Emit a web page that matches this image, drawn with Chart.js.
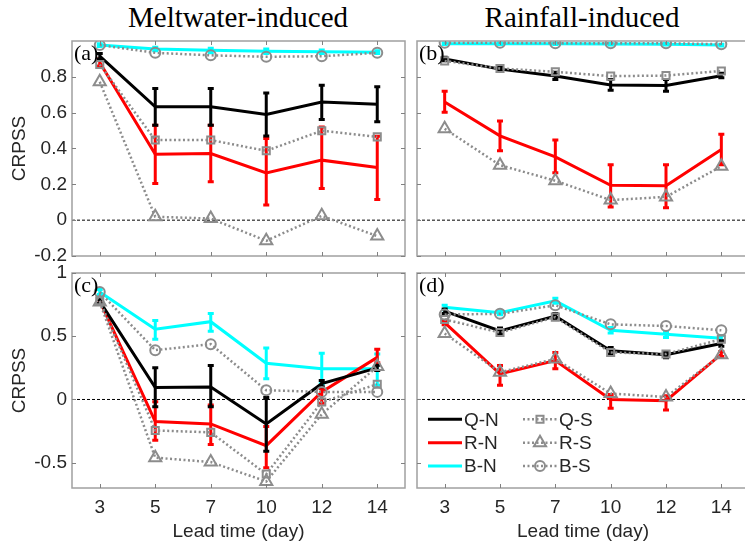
<!DOCTYPE html>
<html>
<head>
<meta charset="utf-8">
<script src="https://cdn.jsdelivr.net/npm/chart.js@4.4.1/dist/chart.umd.min.js"></script>
<style>
  html, body { margin: 0; padding: 0; background: #fff; overflow: hidden; }
  #fig { position: relative; width: 745px; height: 545px; overflow: hidden; }
  #fig canvas { position: absolute; left: 0; top: 0; }
  .col-title {
    position: absolute; top: 3px; transform: translateX(-50%);
    font-family: "Liberation Serif", "Times New Roman", serif;
    font-size: 29px; line-height: 28px; color: #000; white-space: nowrap;
  }
</style>
</head>
<body>
<div id="fig">
  <div class="col-title" style="left:238px">Meltwater-induced</div>
  <div class="col-title" style="left:582px">Rainfall-induced</div>
  <canvas id="pa" width="760" height="545"></canvas>
  <canvas id="pb" width="760" height="545"></canvas>
  <canvas id="pc" width="760" height="545"></canvas>
  <canvas id="pd" width="760" height="545"></canvas>
</div>
<script>
// lead times (days) shared by every panel
const leadDays = ['3', '5', '7', '10', '12', '14'];
const yTicksTop = [-0.2, 0, 0.2, 0.4, 0.6, 0.8];
const yTicksBottom = [-0.5, 0, 0.5, 1];

// (a) meltwater-induced, upper row
const aQN = [0.915, 0.633, 0.633, 0.59, 0.66, 0.647];
const aQNerr = [[0.90, 0.93], [0.53, 0.735], [0.53, 0.735], [0.47, 0.71], [0.562, 0.753], [0.55, 0.744]];
const aRN = [0.88, 0.368, 0.372, 0.264, 0.335, 0.294];
const aRNerr = [[0.86, 0.90], [0.205, 0.53], [0.214, 0.53], [0.084, 0.456], [0.177, 0.52], [0.115, 0.469]];
const aBN = [0.977, 0.955, 0.948, 0.943, 0.94, 0.937];
const aBNerr = [[0.97, 0.985], [0.945, 0.965], [0.935, 0.96], [0.93, 0.955], [0.93, 0.95], [0.93, 0.945]];
const aQS = [0.869, 0.447, 0.447, 0.387, 0.499, 0.465];
const aRS = [0.772, 0.019, 0.009, -0.115, 0.024, -0.089];
const aBS = [0.977, 0.934, 0.92, 0.912, 0.915, 0.934];

// (b) rainfall-induced, upper row
const bQN = [0.899, 0.843, 0.805, 0.755, 0.752, 0.806];
const bQNerr = [[0.89, 0.91], [0.835, 0.852], [0.785, 0.825], [0.725, 0.785], [0.72, 0.785], [0.795, 0.82]];
const bRN = [0.66, 0.471, 0.353, 0.195, 0.192, 0.394];
const bRNerr = [[0.603, 0.72], [0.387, 0.554], [0.264, 0.447], [0.074, 0.31], [0.07, 0.31], [0.309, 0.48]];
const bBN = [0.985, 0.985, 0.985, 0.983, 0.982, 0.977];
const bBNerr = [[0.98, 0.99], [0.98, 0.99], [0.98, 0.99], [0.978, 0.988], [0.977, 0.987], [0.972, 0.982]];
const bQS = [0.889, 0.847, 0.828, 0.804, 0.807, 0.833];
const bRS = [0.51, 0.307, 0.22, 0.112, 0.13, 0.301];
const bBS = [0.99, 0.99, 0.988, 0.988, 0.988, 0.982];

// (c) meltwater-induced, lower row
const cQN = [0.776, 0.094, 0.099, -0.193, 0.125, 0.25];
const cQNerr = [[0.76, 0.79], [-0.057, 0.25], [-0.057, 0.268], [-0.41, 0.016], [0.1, 0.15], [0.23, 0.27]];
const cRN = [0.78, -0.175, -0.193, -0.365, 0.06, 0.333];
const cRNerr = [[0.76, 0.80], [-0.323, -0.018], [-0.357, -0.044], [-0.539, -0.214], [-0.03, 0.086], [0.29, 0.398]];
const cBN = [0.849, 0.555, 0.615, 0.286, 0.242, 0.242];
const cBNerr = [[0.83, 0.87], [0.477, 0.625], [0.54, 0.68], [0.164, 0.406], [0.125, 0.365], [0.112, 0.359]];
const cQS = [0.78, -0.245, -0.26, -0.59, -0.02, 0.12];
const cRS = [0.77, -0.46, -0.495, -0.648, -0.117, 0.26];
const cBS = [0.849, 0.39, 0.4375, 0.073, 0.06, 0.06];

// (d) rainfall-induced, lower row
const dQN = [0.698, 0.542, 0.659, 0.385, 0.354, 0.443];
const dQNerr = [[0.68, 0.715], [0.52, 0.565], [0.64, 0.68], [0.36, 0.41], [0.33, 0.375], [0.42, 0.465]];
const dRN = [0.607, 0.203, 0.307, 0.0, -0.01, 0.359];
const dRNerr = [[0.59, 0.625], [0.112, 0.268], [0.242, 0.372], [-0.07, 0.04], [-0.083, 0.03], [0.34, 0.38]];
const dBN = [0.729, 0.685, 0.78, 0.547, 0.516, 0.484];
const dBNerr = [[0.71, 0.745], [0.67, 0.70], [0.76, 0.80], [0.525, 0.57], [0.49, 0.535], [0.46, 0.505]];
const dQS = [0.633, 0.529, 0.651, 0.372, 0.359, 0.477];
const dRS = [0.521, 0.216, 0.32, 0.047, 0.02, 0.354];
const dBS = [0.672, 0.677, 0.745, 0.594, 0.581, 0.547];

Chart.defaults.font.family = '"Liberation Sans", Arial, sans-serif';
Chart.defaults.color = '#262626';

const CW = 760, CH = 545;
const GREY = '#8c8c8c';

function solidLine(label, data, color, errors) {
  return { label, data, errors, borderColor: color, backgroundColor: color, borderWidth: 3,
           pointRadius: 0, order: 1, tension: 0 };
}
function dottedLine(label, data, style, r) {
  return { label, data, borderColor: GREY, backgroundColor: GREY, borderWidth: 2.5, borderDash: [2, 2.5],
           pointStyle: style, pointRadius: r, pointBorderColor: GREY,
           pointBackgroundColor: 'rgba(255,255,255,0)', pointBorderWidth: 2, order: 0, tension: 0 };
}

// zero line, error bars, axes box with inward ticks, panel letter and legend
const panelDecor = {
  id: 'panelDecor',
  beforeDatasetsDraw(chart) {
    const { ctx, chartArea: a, scales: { y } } = chart;
    const y0 = y.getPixelForValue(0);
    ctx.save();
    ctx.strokeStyle = '#000';
    ctx.lineWidth = 1;
    ctx.setLineDash([3, 2]);
    ctx.beginPath();
    ctx.moveTo(a.left, y0);
    ctx.lineTo(a.right, y0);
    ctx.stroke();
    ctx.restore();
  },
  afterDatasetDraw(chart, args) {
    const ds = chart.data.datasets[args.index];
    if (!ds.errors) return;
    const { ctx, scales: { x, y } } = chart;
    ctx.save();
    ctx.strokeStyle = ds.borderColor;
    ctx.lineWidth = 3;
    ds.errors.forEach(([lo, hi], i) => {
      const px = x.getPixelForValue(i);
      const yl = y.getPixelForValue(lo), yh = y.getPixelForValue(hi);
      ctx.beginPath();
      ctx.moveTo(px, yl); ctx.lineTo(px, yh);
      ctx.moveTo(px - 3, yl); ctx.lineTo(px + 3, yl);
      ctx.moveTo(px - 3, yh); ctx.lineTo(px + 3, yh);
      ctx.stroke();
    });
    ctx.restore();
  },
  afterDraw(chart, _args, opts) {
    const { ctx, chartArea: a, scales: { x, y } } = chart;
    ctx.save();
    // box
    ctx.strokeStyle = '#a0a0a0';
    ctx.lineWidth = 1.5;
    ctx.strokeRect(a.left, a.top, a.width, a.height);
    // inward ticks on all four sides
    ctx.strokeStyle = '#808080';
    ctx.lineWidth = 1;
    ctx.beginPath();
    x.ticks.forEach((t, i) => {
      const px = Math.round(x.getPixelForTick(i)) + 0.5;
      ctx.moveTo(px, a.bottom); ctx.lineTo(px, a.bottom - 4);
      ctx.moveTo(px, a.top); ctx.lineTo(px, a.top + 4);
    });
    y.ticks.forEach((t) => {
      const py = Math.round(y.getPixelForValue(t.value)) + 0.5;
      ctx.moveTo(a.left, py); ctx.lineTo(a.left + 4, py);
      ctx.moveTo(a.right, py); ctx.lineTo(a.right - 4, py);
    });
    ctx.stroke();
    // panel letter
    ctx.fillStyle = '#000';
    ctx.font = '22px "Liberation Serif", "Times New Roman", serif';
    ctx.textBaseline = 'top';
    ctx.textAlign = 'left';
    ctx.fillText(opts.letter, a.left + 2, a.top + 2);

    if (opts.legend) {
      const rows = [a.bottom - 68.7, a.bottom - 45.3, a.bottom - 22];
      const cols = [a.left + 11, a.left + 106];
      ctx.font = '19px "Liberation Sans", Arial, sans-serif';
      ctx.textBaseline = 'middle';
      chart.data.datasets.forEach((ds, i) => {
        const cx = cols[Math.floor(i / 3)], cy = rows[i % 3];
        ctx.save();
        ctx.strokeStyle = ds.borderColor;
        ctx.lineWidth = ds.borderWidth;
        ctx.setLineDash(ds.borderDash || []);
        ctx.beginPath();
        ctx.moveTo(cx, cy); ctx.lineTo(cx + 34, cy);
        ctx.stroke();
        ctx.restore();
        if (ds.pointRadius > 0) {
          ctx.save();
          ctx.strokeStyle = ds.pointBorderColor;
          ctx.fillStyle = ds.pointBackgroundColor;
          ctx.lineWidth = ds.pointBorderWidth;
          Chart.helpers.drawPoint(ctx, { pointStyle: ds.pointStyle, radius: ds.pointRadius, rotation: 0,
                                         borderWidth: ds.pointBorderWidth }, cx + 17, cy);
          ctx.restore();
        }
        ctx.fillStyle = '#262626';
        ctx.fillText(ds.label, cx + 36, cy + 1);
      });
    }
    ctx.restore();
  }
};

const panels = [
  { id: 'pa', letter: '(a)', box: [72, 41, 405, 256], yMin: -0.2, yMax: 1, yTicks: yTicksTop,
    showX: false, showY: true,
    series: [aQN, aRN, aBN, aQS, aRS, aBS], errs: [aQNerr, aRNerr, aBNerr] },
  { id: 'pb', letter: '(b)', box: [417, 41, 749, 256], yMin: -0.2, yMax: 1, yTicks: yTicksTop,
    showX: false, showY: false,
    series: [bQN, bRN, bBN, bQS, bRS, bBS], errs: [bQNerr, bRNerr, bBNerr] },
  { id: 'pc', letter: '(c)', box: [72, 273, 405, 488], yMin: -0.7, yMax: 1, yTicks: yTicksBottom,
    showX: true, showY: true,
    series: [cQN, cRN, cBN, cQS, cRS, cBS], errs: [cQNerr, cRNerr, cBNerr] },
  { id: 'pd', letter: '(d)', box: [417, 273, 749, 488], yMin: -0.7, yMax: 1, yTicks: yTicksBottom,
    showX: true, showY: false, legend: true,
    series: [dQN, dRN, dBN, dQS, dRS, dBS], errs: [dQNerr, dRNerr, dBNerr] }
];

panels.forEach((p) => {
  const [left, top, right, bottom] = p.box;
  const padLeft = p.showY ? 8 : left;
  const yW = left - padLeft;
  const padBottom = p.showX ? 0 : CH - bottom;
  const xH = CH - bottom - padBottom;
  const [qn, rn, bn, qs, rs, bs] = p.series;

  new Chart(document.getElementById(p.id), {
    type: 'line',
    data: {
      labels: leadDays,
      datasets: [
        solidLine('Q-N', qn, '#000000', p.errs[0]),
        solidLine('R-N', rn, '#ff0000', p.errs[1]),
        solidLine('B-N', bn, '#00ffff', p.errs[2]),
        dottedLine('Q-S', qs, 'rect', 5),
        dottedLine('R-S', rs, 'triangle', 7),
        dottedLine('B-S', bs, 'circle', 5)
      ]
    },
    options: {
      responsive: false,
      devicePixelRatio: 1,
      animation: false,
      events: [],
      layout: { padding: { left: padLeft, top: top, right: CW - right, bottom: padBottom } },
      plugins: {
        legend: { display: false },
        tooltip: { enabled: false },
        panelDecor: { letter: p.letter, legend: !!p.legend }
      },
      scales: {
        x: {
          type: 'category',
          offset: true,
          afterFit: (s) => { s.height = xH; },
          grid: { display: false, drawTicks: false },
          border: { display: false },
          ticks: { display: p.showX, padding: 8, font: { size: 19 }, maxRotation: 0, autoSkip: false },
          title: { display: p.showX, text: 'Lead time (day)', font: { size: 19 }, padding: { top: 0, bottom: 2 } }
        },
        y: {
          min: p.yMin,
          max: p.yMax,
          afterBuildTicks: (s) => { s.ticks = p.yTicks.map((v) => ({ value: v })); },
          afterFit: (s) => { s.width = yW; },
          grid: { display: false, drawTicks: false },
          border: { display: false },
          ticks: { display: p.showY, padding: 5, font: { size: 19 }, callback: (v) => String(v) },
          title: { display: p.showY, text: 'CRPSS', font: { size: 19 }, padding: 0 }
        }
      }
    },
    plugins: [panelDecor]
  });
});
</script>
</body>
</html>
